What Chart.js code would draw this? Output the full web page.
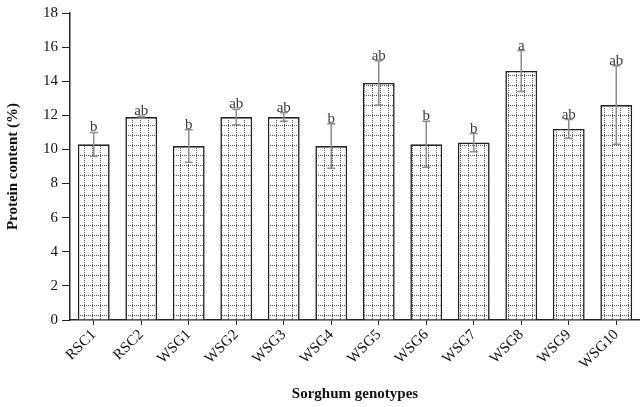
<!DOCTYPE html>
<html>
<head>
<meta charset="utf-8">
<script src="https://cdn.jsdelivr.net/npm/chart.js@4.4.0/dist/chart.umd.min.js"></script>
<style>
  html, body { margin: 0; padding: 0; background: #fff; }
  #wrap { width: 640px; height: 407px; }
</style>
</head>
<body>
<div id="wrap"><canvas id="protein_chart"></canvas></div>
<script>
// Protein content per sorghum genotype

const genotypes = ["RSC1", "RSC2", "WSG1", "WSG2", "WSG3", "WSG4", "WSG5", "WSG6", "WSG7", "WSG8", "WSG9", "WSG10"];
const protein = [10.3, 11.9, 10.2, 11.9, 11.9, 10.2, 13.9, 10.3, 10.4, 14.6, 11.2, 12.6];
const proteinErr = [0.7, 0.05, 0.95, 0.45, 0.25, 1.3, 1.3, 1.35, 0.53, 1.2, 0.55, 2.3];
const letters = ["b", "ab", "b", "ab", "ab", "b", "ab", "b", "b", "a", "ab", "ab"];
const yTicks = [0, 2, 4, 6, 8, 10, 12, 14, 16, 18];

const serif = "'Liberation Serif', 'DejaVu Serif', serif";

// dotted grid fill for the bars
function makePattern() {
    const c = document.createElement('canvas');
    c.width = 8;
    c.height = 10;
    const g = c.getContext('2d');
    g.fillStyle = '#fff';
    g.fillRect(0, 0, 8, 10);
    g.fillStyle = '#555';
    for (let y = 0; y < 10; y += 2) g.fillRect(4, y, 1, 1);
    for (let x = 0; x < 8; x += 2) g.fillRect(x, 5, 1, 1);
    return g.createPattern(c, 'repeat');
}

const errorBars = {
    id: 'errorBars',
    afterDatasetsDraw(chart) {
        const ctx = chart.ctx;
        const meta = chart.getDatasetMeta(0);
        const y = chart.scales.y;
        ctx.save();
        meta.data.forEach((bar, i) => {
            const top = y.getPixelForValue(protein[i] + proteinErr[i]);
            const bot = y.getPixelForValue(protein[i] - proteinErr[i]);
            const x = bar.x;
            ctx.strokeStyle = '#8c8c8c';
            ctx.lineWidth = 1.5;
            ctx.beginPath();
            ctx.moveTo(x, top); ctx.lineTo(x, bot);
            ctx.moveTo(x - 4, top); ctx.lineTo(x + 4, top);
            ctx.moveTo(x - 4, bot); ctx.lineTo(x + 4, bot);
            ctx.stroke();

            ctx.fillStyle = '#3a3a3a';
            ctx.font = "15px " + serif;
            ctx.textAlign = 'center';
            ctx.textBaseline = 'alphabetic';
            ctx.fillText(letters[i], x, Math.min(top, bar.y) - 1);
        });
        ctx.restore();
    }
};

const protein_ctx = document.getElementById('protein_chart').getContext('2d');
const protein_chart = new Chart(protein_ctx, {
    type: 'bar',
    data: {
        labels: genotypes,
        datasets: [{
            data: protein,
            backgroundColor: makePattern(),
            borderColor: '#222',
            borderWidth: 1.6,
            barPercentage: 0.67,
            categoryPercentage: 1
        }]
    },
    options: {
        responsive: true,
        maintainAspectRatio: false,
        animation: false,
        layout: { padding: { left: 4, right: -4, top: 6, bottom: 4 } },
        plugins: {
            legend: { display: false },
            tooltip: { enabled: false }
        },
        scales: {
            x: {
                grid: {
                    display: true,
                    drawOnChartArea: false,
                    offset: false,
                    color: '#222',
                    tickLength: 5
                },
                border: { color: '#222', width: 1.5 },
                ticks: {
                    color: '#111',
                    font: { family: serif, size: 15 },
                    maxRotation: 45,
                    minRotation: 45,
                    padding: 1
                },
                title: {
                    display: true,
                    text: "Sorghum genotypes",
                    color: '#111',
                    font: { family: serif, size: 15, weight: 'bold' },
                    padding: { top: 6, bottom: 0 }
                },
                afterFit: (scale) => { scale.height = 83; }
            },
            y: {
                min: 0,
                max: 18,
                afterBuildTicks: (scale) => { scale.ticks = yTicks.map(v => ({ value: v })); },
                grid: {
                    display: true,
                    drawOnChartArea: false,
                    color: '#222',
                    tickLength: 8
                },
                border: { color: '#222', width: 1.5 },
                ticks: {
                    color: '#111',
                    font: { family: serif, size: 15 },
                    padding: 4
                },
                title: {
                    display: true,
                    text: "Protein content (%)",
                    color: '#111',
                    font: { family: serif, size: 15, weight: 'bold' },
                    padding: { top: 0, bottom: 8 }
                },
                afterFit: (scale) => { scale.width = 66; }
            }
        }
    },
    plugins: [errorBars]
});
</script>
</body>
</html>
